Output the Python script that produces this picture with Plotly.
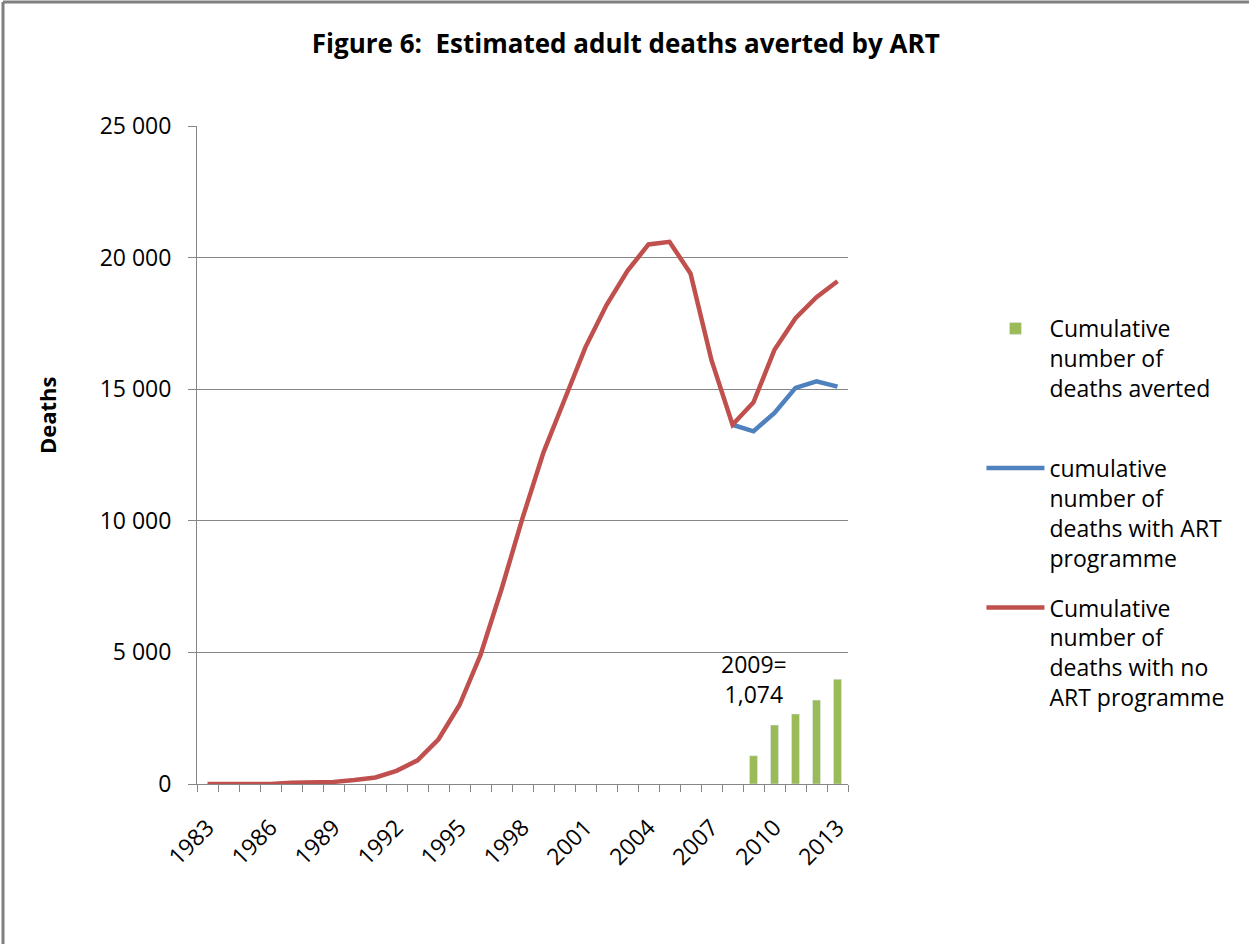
import plotly.graph_objects as go

years = list(range(1983, 2014))
no_art = [0, 0, 0, 0, 50, 60, 80, 150, 250, 500, 900, 1700, 3000, 4900, 7400,
          10100, 12600, 14600, 16600, 18200, 19500, 20500, 20600, 19400, 16100,
          13650, 14500, 16500, 17700, 18500, 19100]
art_years = [2008, 2009, 2010, 2011, 2012, 2013]
with_art = [13650, 13400, 14100, 15050, 15300, 15100]
bar_years = [2009, 2010, 2011, 2012, 2013]
averted = [1074, 2240, 2660, 3190, 3980]
tick_years = list(range(1983, 2014, 3))

FONT = "Open Sans"

fig = go.Figure()
fig.add_trace(go.Bar(x=bar_years, y=averted, width=0.38, marker_color="#9BBB59",
                     name="Cumulative<br>number of<br>deaths averted<br> ",
                     legendgroup="a"))
fig.add_trace(go.Scatter(x=art_years, y=with_art, mode="lines",
                         line=dict(color="#4F81BD", width=4.5),
                         name="cumulative<br>number of<br>deaths with ART<br>programme",
                         legendgroup="b"))
fig.add_trace(go.Scatter(x=years, y=no_art, mode="lines",
                         line=dict(color="#C0504D", width=4.5),
                         name="Cumulative<br>number of<br>deaths with no<br>ART programme",
                         legendgroup="c"))

fig.add_annotation(x=2009, y=2750, text="2009=<br>1,074", showarrow=False,
                   xanchor="center", yanchor="bottom",
                   font=dict(family=FONT, size=23, color="#000"))

# y-axis title (placed as in the reference, above the plot's centre)
fig.add_annotation(xref="paper", yref="paper", x=(47 - 197) / 651,
                   y=(784 - 415) / 658, text="<b>Deaths</b>", textangle=-90,
                   showarrow=False, xanchor="center", yanchor="middle",
                   font=dict(family=FONT, size=22, color="#000"))

fig.update_layout(
    width=1249, height=944,
    margin=dict(l=197, r=401, t=126, b=160),
    paper_bgcolor="white", plot_bgcolor="white",
    separators=". ",
    font=dict(family=FONT, size=23, color="#000"),
    title=dict(text="<b>Figure 6:  Estimated adult deaths averted by ART</b>",
               x=0.501, xanchor="center", xref="container", y=0.953, yanchor="middle",
               font=dict(family=FONT, size=26, color="#000")),
    showlegend=True,
    legend=dict(x=1.205, y=0.725, xanchor="left", yanchor="top",
                font=dict(family=FONT, size=23, color="#000"),
                valign="top", tracegroupgap=17, traceorder="grouped",
                itemwidth=58, bgcolor="rgba(0,0,0,0)"),
    xaxis=dict(range=[1982.5, 2013.5], tickmode="array", tickvals=tick_years,
               ticktext=[str(y) for y in tick_years], tickangle=-45,
               ticks="", showgrid=False, showline=True, linecolor="#868686",
               linewidth=1, zeroline=False, ticklabelstandoff=20,
               tickfont=dict(family=FONT, size=23, color="#000"),
               minor=dict(ticks="outside", tick0=1982.5, dtick=1, ticklen=7,
                          tickcolor="#868686", showgrid=False)),
    yaxis=dict(range=[0, 25000], dtick=5000, tickformat=",d",
               showgrid=True, gridcolor="#868686", gridwidth=1,
               showline=True, linecolor="#868686", linewidth=1,
               ticks="outside", ticklen=8, tickcolor="#868686",
               ticklabelstandoff=12, zeroline=False,
               tickfont=dict(family=FONT, size=23, color="#000")),
    bargap=0.6,
)

# page frame (top and left border of the chart area)
fig.add_shape(type="line", xref="paper", yref="paper",
              x0=(3 - 197) / 651, x1=(1249 - 197) / 651,
              y0=(784 - 2) / 658, y1=(784 - 2) / 658,
              line=dict(color="#808080", width=3))
fig.add_shape(type="line", xref="paper", yref="paper",
              x0=(3 - 197) / 651, x1=(3 - 197) / 651,
              y0=(784 - 2) / 658, y1=(784 - 944) / 658,
              line=dict(color="#808080", width=3))

fig.write_html("out.html", config={"displayModeBar": False},
               post_script="document.body.style.margin='0';document.body.style.overflow='hidden';")
